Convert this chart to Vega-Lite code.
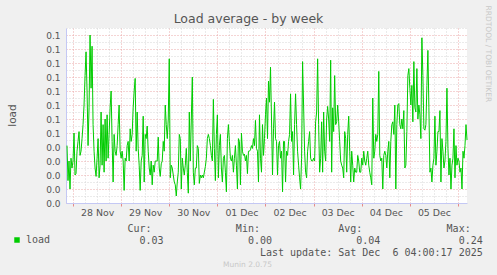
{
  "$schema": "https://vega.github.io/schema/vega-lite/v6.json",
  "width": 401,
  "height": 175,
  "autosize": "none",
  "padding": {"left": 66, "top": 28, "right": 30, "bottom": 72},
  "background": "#f0f0f0",
  "title": {
    "text": "Load average - by week",
    "font": "DejaVu Sans",
    "fontSize": 12.5,
    "fontWeight": "normal",
    "color": "#555555",
    "anchor": "middle",
    "frame": "group",
    "dx": -18,
    "dy": 34,
    "offset": 4,
    "baseline": "alphabetic"
  },
  "data": {
    "values": [
      {"t": "2025-11-27T21:00", "v": 0.041}, {"t": "2025-11-27T21:30", "v": 0.016}, {"t": "2025-11-27T22:00", "v": 0.030}, {"t": "2025-11-27T22:30", "v": 0.010}, {"t": "2025-11-27T23:00", "v": 0.032}, {"t": "2025-11-27T23:30", "v": 0.025},
      {"t": "2025-11-28T00:00", "v": 0.030}, {"t": "2025-11-28T00:30", "v": 0.050}, {"t": "2025-11-28T01:00", "v": 0.020}, {"t": "2025-11-28T01:30", "v": 0.021}, {"t": "2025-11-28T02:00", "v": 0.037}, {"t": "2025-11-28T02:30", "v": 0.044},
      {"t": "2025-11-28T03:00", "v": 0.051}, {"t": "2025-11-28T03:30", "v": 0.034}, {"t": "2025-11-28T04:00", "v": 0.037}, {"t": "2025-11-28T04:30", "v": 0.046}, {"t": "2025-11-28T05:00", "v": 0.056}, {"t": "2025-11-28T05:30", "v": 0.070},
      {"t": "2025-11-28T06:00", "v": 0.091}, {"t": "2025-11-28T06:30", "v": 0.108}, {"t": "2025-11-28T07:00", "v": 0.080}, {"t": "2025-11-28T07:30", "v": 0.041}, {"t": "2025-11-28T08:00", "v": 0.068}, {"t": "2025-11-28T08:30", "v": 0.120},
      {"t": "2025-11-28T09:00", "v": 0.082}, {"t": "2025-11-28T09:30", "v": 0.112}, {"t": "2025-11-28T10:00", "v": 0.056}, {"t": "2025-11-28T10:30", "v": 0.037}, {"t": "2025-11-28T11:00", "v": 0.025}, {"t": "2025-11-28T11:30", "v": 0.019},
      {"t": "2025-11-28T12:00", "v": 0.032}, {"t": "2025-11-28T12:30", "v": 0.046}, {"t": "2025-11-28T13:00", "v": 0.018}, {"t": "2025-11-28T13:30", "v": 0.027}, {"t": "2025-11-28T14:00", "v": 0.065}, {"t": "2025-11-28T14:30", "v": 0.027},
      {"t": "2025-11-28T15:00", "v": 0.056}, {"t": "2025-11-28T15:30", "v": 0.022}, {"t": "2025-11-28T16:00", "v": 0.060}, {"t": "2025-11-28T16:30", "v": 0.030}, {"t": "2025-11-28T17:00", "v": 0.063}, {"t": "2025-11-28T17:30", "v": 0.032},
      {"t": "2025-11-28T18:00", "v": 0.049}, {"t": "2025-11-28T18:30", "v": 0.068}, {"t": "2025-11-28T19:00", "v": 0.080}, {"t": "2025-11-28T19:30", "v": 0.044}, {"t": "2025-11-28T20:00", "v": 0.015}, {"t": "2025-11-28T20:30", "v": 0.049},
      {"t": "2025-11-28T21:00", "v": 0.037}, {"t": "2025-11-28T21:30", "v": 0.034}, {"t": "2025-11-28T22:00", "v": 0.041}, {"t": "2025-11-28T22:30", "v": 0.056}, {"t": "2025-11-28T23:00", "v": 0.070}, {"t": "2025-11-28T23:30", "v": 0.037},
      {"t": "2025-11-29T00:00", "v": 0.032}, {"t": "2025-11-29T00:30", "v": 0.037}, {"t": "2025-11-29T01:00", "v": 0.030}, {"t": "2025-11-29T01:30", "v": 0.009}, {"t": "2025-11-29T02:00", "v": 0.032}, {"t": "2025-11-29T02:30", "v": 0.030},
      {"t": "2025-11-29T03:00", "v": 0.041}, {"t": "2025-11-29T03:30", "v": 0.044}, {"t": "2025-11-29T04:00", "v": 0.030}, {"t": "2025-11-29T04:30", "v": 0.053}, {"t": "2025-11-29T05:00", "v": 0.044}, {"t": "2025-11-29T05:30", "v": 0.049},
      {"t": "2025-11-29T06:00", "v": 0.068}, {"t": "2025-11-29T06:30", "v": 0.080}, {"t": "2025-11-29T07:00", "v": 0.089}, {"t": "2025-11-29T07:30", "v": 0.037}, {"t": "2025-11-29T08:00", "v": 0.065}, {"t": "2025-11-29T08:30", "v": 0.039},
      {"t": "2025-11-29T09:00", "v": 0.027}, {"t": "2025-11-29T09:30", "v": 0.009}, {"t": "2025-11-29T10:00", "v": 0.030}, {"t": "2025-11-29T10:30", "v": 0.034}, {"t": "2025-11-29T11:00", "v": 0.062}, {"t": "2025-11-29T11:30", "v": 0.015},
      {"t": "2025-11-29T12:00", "v": 0.049}, {"t": "2025-11-29T12:30", "v": 0.046}, {"t": "2025-11-29T13:00", "v": 0.055}, {"t": "2025-11-29T13:30", "v": 0.037}, {"t": "2025-11-29T14:00", "v": 0.025}, {"t": "2025-11-29T14:30", "v": 0.020},
      {"t": "2025-11-29T15:00", "v": 0.030}, {"t": "2025-11-29T15:30", "v": 0.013}, {"t": "2025-11-29T16:00", "v": 0.027}, {"t": "2025-11-29T16:30", "v": 0.022}, {"t": "2025-11-29T17:00", "v": 0.030}, {"t": "2025-11-29T17:30", "v": 0.030},
      {"t": "2025-11-29T18:00", "v": 0.030}, {"t": "2025-11-29T18:30", "v": 0.047}, {"t": "2025-11-29T19:00", "v": 0.025}, {"t": "2025-11-29T19:30", "v": 0.019}, {"t": "2025-11-29T20:00", "v": 0.028}, {"t": "2025-11-29T20:30", "v": 0.030},
      {"t": "2025-11-29T21:00", "v": 0.044}, {"t": "2025-11-29T21:30", "v": 0.037}, {"t": "2025-11-29T22:00", "v": 0.070}, {"t": "2025-11-29T22:30", "v": 0.056}, {"t": "2025-11-29T23:00", "v": 0.046}, {"t": "2025-11-29T23:30", "v": 0.060},
      {"t": "2025-11-30T00:00", "v": 0.103}, {"t": "2025-11-30T00:30", "v": 0.018}, {"t": "2025-11-30T01:00", "v": 0.027}, {"t": "2025-11-30T01:30", "v": 0.025}, {"t": "2025-11-30T02:00", "v": 0.020}, {"t": "2025-11-30T02:30", "v": 0.015},
      {"t": "2025-11-30T03:00", "v": 0.013}, {"t": "2025-11-30T03:30", "v": 0.005}, {"t": "2025-11-30T04:00", "v": 0.015}, {"t": "2025-11-30T04:30", "v": 0.022}, {"t": "2025-11-30T05:00", "v": 0.049}, {"t": "2025-11-30T05:30", "v": 0.046},
      {"t": "2025-11-30T06:00", "v": 0.010}, {"t": "2025-11-30T06:30", "v": 0.032}, {"t": "2025-11-30T07:00", "v": 0.025}, {"t": "2025-11-30T07:30", "v": 0.020}, {"t": "2025-11-30T08:00", "v": 0.027}, {"t": "2025-11-30T08:30", "v": 0.039},
      {"t": "2025-11-30T09:00", "v": 0.022}, {"t": "2025-11-30T09:30", "v": 0.007}, {"t": "2025-11-30T10:00", "v": 0.065}, {"t": "2025-11-30T10:30", "v": 0.030}, {"t": "2025-11-30T11:00", "v": 0.060}, {"t": "2025-11-30T11:30", "v": 0.090},
      {"t": "2025-11-30T12:00", "v": 0.022}, {"t": "2025-11-30T12:30", "v": 0.013}, {"t": "2025-11-30T13:00", "v": 0.025}, {"t": "2025-11-30T13:30", "v": 0.025}, {"t": "2025-11-30T14:00", "v": 0.041}, {"t": "2025-11-30T14:30", "v": 0.039},
      {"t": "2025-11-30T15:00", "v": 0.014}, {"t": "2025-11-30T15:30", "v": 0.020}, {"t": "2025-11-30T16:00", "v": 0.018}, {"t": "2025-11-30T16:30", "v": 0.020}, {"t": "2025-11-30T17:00", "v": 0.018}, {"t": "2025-11-30T17:30", "v": 0.022},
      {"t": "2025-11-30T18:00", "v": 0.026}, {"t": "2025-11-30T18:30", "v": 0.032}, {"t": "2025-11-30T19:00", "v": 0.046}, {"t": "2025-11-30T19:30", "v": 0.049}, {"t": "2025-11-30T20:00", "v": 0.046}, {"t": "2025-11-30T20:30", "v": 0.041},
      {"t": "2025-11-30T21:00", "v": 0.034}, {"t": "2025-11-30T21:30", "v": 0.030}, {"t": "2025-11-30T22:00", "v": 0.074}, {"t": "2025-11-30T22:30", "v": 0.039}, {"t": "2025-11-30T23:00", "v": 0.016}, {"t": "2025-11-30T23:30", "v": 0.049},
      {"t": "2025-12-01T00:00", "v": 0.063}, {"t": "2025-12-01T00:30", "v": 0.018}, {"t": "2025-12-01T01:00", "v": 0.041}, {"t": "2025-12-01T01:30", "v": 0.049}, {"t": "2025-12-01T02:00", "v": 0.025}, {"t": "2025-12-01T02:30", "v": 0.015},
      {"t": "2025-12-01T03:00", "v": 0.032}, {"t": "2025-12-01T03:30", "v": 0.034}, {"t": "2025-12-01T04:00", "v": 0.022}, {"t": "2025-12-01T04:30", "v": 0.008}, {"t": "2025-12-01T05:00", "v": 0.046}, {"t": "2025-12-01T05:30", "v": 0.056},
      {"t": "2025-12-01T06:00", "v": 0.044}, {"t": "2025-12-01T06:30", "v": 0.032}, {"t": "2025-12-01T07:00", "v": 0.030}, {"t": "2025-12-01T07:30", "v": 0.034}, {"t": "2025-12-01T08:00", "v": 0.022}, {"t": "2025-12-01T08:30", "v": 0.032},
      {"t": "2025-12-01T09:00", "v": 0.041}, {"t": "2025-12-01T09:30", "v": 0.027}, {"t": "2025-12-01T10:00", "v": 0.010}, {"t": "2025-12-01T10:30", "v": 0.046}, {"t": "2025-12-01T11:00", "v": 0.044}, {"t": "2025-12-01T11:30", "v": 0.013},
      {"t": "2025-12-01T12:00", "v": 0.050}, {"t": "2025-12-01T12:30", "v": 0.037}, {"t": "2025-12-01T13:00", "v": 0.034}, {"t": "2025-12-01T13:30", "v": 0.035}, {"t": "2025-12-01T14:00", "v": 0.030}, {"t": "2025-12-01T14:30", "v": 0.034},
      {"t": "2025-12-01T15:00", "v": 0.021}, {"t": "2025-12-01T15:30", "v": 0.037}, {"t": "2025-12-01T16:00", "v": 0.037}, {"t": "2025-12-01T16:30", "v": 0.038}, {"t": "2025-12-01T17:00", "v": 0.041}, {"t": "2025-12-01T17:30", "v": 0.039},
      {"t": "2025-12-01T18:00", "v": 0.046}, {"t": "2025-12-01T18:30", "v": 0.041}, {"t": "2025-12-01T19:00", "v": 0.059}, {"t": "2025-12-01T19:30", "v": 0.039}, {"t": "2025-12-01T20:00", "v": 0.037}, {"t": "2025-12-01T20:30", "v": 0.015},
      {"t": "2025-12-01T21:00", "v": 0.063}, {"t": "2025-12-01T21:30", "v": 0.032}, {"t": "2025-12-01T22:00", "v": 0.022}, {"t": "2025-12-01T22:30", "v": 0.056}, {"t": "2025-12-01T23:00", "v": 0.034}, {"t": "2025-12-01T23:30", "v": 0.046},
      {"t": "2025-12-02T00:00", "v": 0.063}, {"t": "2025-12-02T00:30", "v": 0.075}, {"t": "2025-12-02T01:00", "v": 0.046}, {"t": "2025-12-02T01:30", "v": 0.087}, {"t": "2025-12-02T02:00", "v": 0.072}, {"t": "2025-12-02T02:30", "v": 0.097},
      {"t": "2025-12-02T03:00", "v": 0.060}, {"t": "2025-12-02T03:30", "v": 0.020}, {"t": "2025-12-02T04:00", "v": 0.053}, {"t": "2025-12-02T04:30", "v": 0.072}, {"t": "2025-12-02T05:00", "v": 0.046}, {"t": "2025-12-02T05:30", "v": 0.044},
      {"t": "2025-12-02T06:00", "v": 0.020}, {"t": "2025-12-02T06:30", "v": 0.041}, {"t": "2025-12-02T07:00", "v": 0.044}, {"t": "2025-12-02T07:30", "v": 0.032}, {"t": "2025-12-02T08:00", "v": 0.037}, {"t": "2025-12-02T08:30", "v": 0.008},
      {"t": "2025-12-02T09:00", "v": 0.044}, {"t": "2025-12-02T09:30", "v": 0.044}, {"t": "2025-12-02T10:00", "v": 0.015}, {"t": "2025-12-02T10:30", "v": 0.037}, {"t": "2025-12-02T11:00", "v": 0.034}, {"t": "2025-12-02T11:30", "v": 0.044},
      {"t": "2025-12-02T12:00", "v": 0.049}, {"t": "2025-12-02T12:30", "v": 0.078}, {"t": "2025-12-02T13:00", "v": 0.044}, {"t": "2025-12-02T13:30", "v": 0.051}, {"t": "2025-12-02T14:00", "v": 0.020}, {"t": "2025-12-02T14:30", "v": 0.056},
      {"t": "2025-12-02T15:00", "v": 0.078}, {"t": "2025-12-02T15:30", "v": 0.056}, {"t": "2025-12-02T16:00", "v": 0.037}, {"t": "2025-12-02T16:30", "v": 0.027}, {"t": "2025-12-02T17:00", "v": 0.018}, {"t": "2025-12-02T17:30", "v": 0.010},
      {"t": "2025-12-02T18:00", "v": 0.032}, {"t": "2025-12-02T18:30", "v": 0.101}, {"t": "2025-12-02T19:00", "v": 0.070}, {"t": "2025-12-02T19:30", "v": 0.037}, {"t": "2025-12-02T20:00", "v": 0.022}, {"t": "2025-12-02T20:30", "v": 0.018},
      {"t": "2025-12-02T21:00", "v": 0.037}, {"t": "2025-12-02T21:30", "v": 0.044}, {"t": "2025-12-02T22:00", "v": 0.051}, {"t": "2025-12-02T22:30", "v": 0.032}, {"t": "2025-12-02T23:00", "v": 0.030}, {"t": "2025-12-02T23:30", "v": 0.030},
      {"t": "2025-12-03T00:00", "v": 0.032}, {"t": "2025-12-03T00:30", "v": 0.030}, {"t": "2025-12-03T01:00", "v": 0.058}, {"t": "2025-12-03T01:30", "v": 0.065}, {"t": "2025-12-03T02:00", "v": 0.103}, {"t": "2025-12-03T02:30", "v": 0.056},
      {"t": "2025-12-03T03:00", "v": 0.022}, {"t": "2025-12-03T03:30", "v": 0.032}, {"t": "2025-12-03T04:00", "v": 0.058}, {"t": "2025-12-03T04:30", "v": 0.022}, {"t": "2025-12-03T05:00", "v": 0.065}, {"t": "2025-12-03T05:30", "v": 0.037},
      {"t": "2025-12-03T06:00", "v": 0.030}, {"t": "2025-12-03T06:30", "v": 0.060}, {"t": "2025-12-03T07:00", "v": 0.069}, {"t": "2025-12-03T07:30", "v": 0.060}, {"t": "2025-12-03T08:00", "v": 0.044}, {"t": "2025-12-03T08:30", "v": 0.102},
      {"t": "2025-12-03T09:00", "v": 0.022}, {"t": "2025-12-03T09:30", "v": 0.068}, {"t": "2025-12-03T10:00", "v": 0.051}, {"t": "2025-12-03T10:30", "v": 0.091}, {"t": "2025-12-03T11:00", "v": 0.056}, {"t": "2025-12-03T11:30", "v": 0.058},
      {"t": "2025-12-03T12:00", "v": 0.070}, {"t": "2025-12-03T12:30", "v": 0.058}, {"t": "2025-12-03T13:00", "v": 0.044}, {"t": "2025-12-03T13:30", "v": 0.030}, {"t": "2025-12-03T14:00", "v": 0.027}, {"t": "2025-12-03T14:30", "v": 0.025},
      {"t": "2025-12-03T15:00", "v": 0.018}, {"t": "2025-12-03T15:30", "v": 0.051}, {"t": "2025-12-03T16:00", "v": 0.046}, {"t": "2025-12-03T16:30", "v": 0.022}, {"t": "2025-12-03T17:00", "v": 0.049}, {"t": "2025-12-03T17:30", "v": 0.062},
      {"t": "2025-12-03T18:00", "v": 0.037}, {"t": "2025-12-03T18:30", "v": 0.015}, {"t": "2025-12-03T19:00", "v": 0.037}, {"t": "2025-12-03T19:30", "v": 0.027}, {"t": "2025-12-03T20:00", "v": 0.015}, {"t": "2025-12-03T20:30", "v": 0.025},
      {"t": "2025-12-03T21:00", "v": 0.022}, {"t": "2025-12-03T21:30", "v": 0.022}, {"t": "2025-12-03T22:00", "v": 0.034}, {"t": "2025-12-03T22:30", "v": 0.030}, {"t": "2025-12-03T23:00", "v": 0.022}, {"t": "2025-12-03T23:30", "v": 0.022},
      {"t": "2025-12-04T00:00", "v": 0.032}, {"t": "2025-12-04T00:30", "v": 0.027}, {"t": "2025-12-04T01:00", "v": 0.037}, {"t": "2025-12-04T01:30", "v": 0.030}, {"t": "2025-12-04T02:00", "v": 0.027}, {"t": "2025-12-04T02:30", "v": 0.032},
      {"t": "2025-12-04T03:00", "v": 0.037}, {"t": "2025-12-04T03:30", "v": 0.027}, {"t": "2025-12-04T04:00", "v": 0.022}, {"t": "2025-12-04T04:30", "v": 0.018}, {"t": "2025-12-04T05:00", "v": 0.013}, {"t": "2025-12-04T05:30", "v": 0.075},
      {"t": "2025-12-04T06:00", "v": 0.032}, {"t": "2025-12-04T06:30", "v": 0.037}, {"t": "2025-12-04T07:00", "v": 0.049}, {"t": "2025-12-04T07:30", "v": 0.044}, {"t": "2025-12-04T08:00", "v": 0.049}, {"t": "2025-12-04T08:30", "v": 0.094},
      {"t": "2025-12-04T09:00", "v": 0.034}, {"t": "2025-12-04T09:30", "v": 0.030}, {"t": "2025-12-04T10:00", "v": 0.032}, {"t": "2025-12-04T10:30", "v": 0.010}, {"t": "2025-12-04T11:00", "v": 0.034}, {"t": "2025-12-04T11:30", "v": 0.037},
      {"t": "2025-12-04T12:00", "v": 0.034}, {"t": "2025-12-04T12:30", "v": 0.025}, {"t": "2025-12-04T13:00", "v": 0.037}, {"t": "2025-12-04T13:30", "v": 0.044}, {"t": "2025-12-04T14:00", "v": 0.018}, {"t": "2025-12-04T14:30", "v": 0.044},
      {"t": "2025-12-04T15:00", "v": 0.056}, {"t": "2025-12-04T15:30", "v": 0.058}, {"t": "2025-12-04T16:00", "v": 0.049}, {"t": "2025-12-04T16:30", "v": 0.070}, {"t": "2025-12-04T17:00", "v": 0.010}, {"t": "2025-12-04T17:30", "v": 0.056},
      {"t": "2025-12-04T18:00", "v": 0.070}, {"t": "2025-12-04T18:30", "v": 0.071}, {"t": "2025-12-04T19:00", "v": 0.056}, {"t": "2025-12-04T19:30", "v": 0.053}, {"t": "2025-12-04T20:00", "v": 0.060}, {"t": "2025-12-04T20:30", "v": 0.053},
      {"t": "2025-12-04T21:00", "v": 0.066}, {"t": "2025-12-04T21:30", "v": 0.025}, {"t": "2025-12-04T22:00", "v": 0.027}, {"t": "2025-12-04T22:30", "v": 0.051}, {"t": "2025-12-04T23:00", "v": 0.091}, {"t": "2025-12-04T23:30", "v": 0.096},
      {"t": "2025-12-05T00:00", "v": 0.082}, {"t": "2025-12-05T00:30", "v": 0.070}, {"t": "2025-12-05T01:00", "v": 0.084}, {"t": "2025-12-05T01:30", "v": 0.058}, {"t": "2025-12-05T02:00", "v": 0.101}, {"t": "2025-12-05T02:30", "v": 0.068},
      {"t": "2025-12-05T03:00", "v": 0.065}, {"t": "2025-12-05T03:30", "v": 0.096}, {"t": "2025-12-05T04:00", "v": 0.060}, {"t": "2025-12-05T04:30", "v": 0.070}, {"t": "2025-12-05T05:00", "v": 0.063}, {"t": "2025-12-05T05:30", "v": 0.046},
      {"t": "2025-12-05T06:00", "v": 0.118}, {"t": "2025-12-05T06:30", "v": 0.091}, {"t": "2025-12-05T07:00", "v": 0.053}, {"t": "2025-12-05T07:30", "v": 0.052}, {"t": "2025-12-05T08:00", "v": 0.056}, {"t": "2025-12-05T08:30", "v": 0.084},
      {"t": "2025-12-05T09:00", "v": 0.109}, {"t": "2025-12-05T09:30", "v": 0.068}, {"t": "2025-12-05T10:00", "v": 0.022}, {"t": "2025-12-05T10:30", "v": 0.025}, {"t": "2025-12-05T11:00", "v": 0.015}, {"t": "2025-12-05T11:30", "v": 0.027},
      {"t": "2025-12-05T12:00", "v": 0.032}, {"t": "2025-12-05T12:30", "v": 0.062}, {"t": "2025-12-05T13:00", "v": 0.027}, {"t": "2025-12-05T13:30", "v": 0.037}, {"t": "2025-12-05T14:00", "v": 0.051}, {"t": "2025-12-05T14:30", "v": 0.051},
      {"t": "2025-12-05T15:00", "v": 0.066}, {"t": "2025-12-05T15:30", "v": 0.015}, {"t": "2025-12-05T16:00", "v": 0.046}, {"t": "2025-12-05T16:30", "v": 0.037}, {"t": "2025-12-05T17:00", "v": 0.025}, {"t": "2025-12-05T17:30", "v": 0.030},
      {"t": "2025-12-05T18:00", "v": 0.044}, {"t": "2025-12-05T18:30", "v": 0.082}, {"t": "2025-12-05T19:00", "v": 0.039}, {"t": "2025-12-05T19:30", "v": 0.020}, {"t": "2025-12-05T20:00", "v": 0.032}, {"t": "2025-12-05T20:30", "v": 0.010},
      {"t": "2025-12-05T21:00", "v": 0.027}, {"t": "2025-12-05T21:30", "v": 0.032}, {"t": "2025-12-05T22:00", "v": 0.053}, {"t": "2025-12-05T22:30", "v": 0.018}, {"t": "2025-12-05T23:00", "v": 0.041}, {"t": "2025-12-05T23:30", "v": 0.027},
      {"t": "2025-12-06T00:00", "v": 0.032}, {"t": "2025-12-06T00:30", "v": 0.030}, {"t": "2025-12-06T01:00", "v": 0.022}, {"t": "2025-12-06T01:30", "v": 0.025}, {"t": "2025-12-06T02:00", "v": 0.010}, {"t": "2025-12-06T02:30", "v": 0.037},
      {"t": "2025-12-06T03:00", "v": 0.032}, {"t": "2025-12-06T03:30", "v": 0.041}, {"t": "2025-12-06T04:00", "v": 0.056}, {"t": "2025-12-06T04:30", "v": 0.045}
    ]
  },
  "layer": [
    {
      "mark": {"type": "line", "opacity": 0, "strokeWidth": 0},
      "encoding": {
        "x": {
          "field": "t",
          "type": "temporal",
          "axis": {
            "orient": "bottom",
            "values": [
              {"year": 2025, "month": 11, "date": 28, "hours": 0}, {"year": 2025, "month": 11, "date": 29, "hours": 0}, {"year": 2025, "month": 11, "date": 30, "hours": 0},
              {"year": 2025, "month": 12, "date": 1, "hours": 0}, {"year": 2025, "month": 12, "date": 2, "hours": 0}, {"year": 2025, "month": 12, "date": 3, "hours": 0},
              {"year": 2025, "month": 12, "date": 4, "hours": 0}, {"year": 2025, "month": 12, "date": 5, "hours": 0}, {"year": 2025, "month": 12, "date": 6, "hours": 0}
            ],
            "domain": false,
            "labels": false,
            "ticks": true,
            "tickSize": 3,
            "tickColor": "#e58a8a",
            "grid": true,
            "gridColor": "#eaa8a8",
            "gridDash": [1, 2],
            "title": null
          }
        },
        "y": {
          "field": "v",
          "type": "quantitative",
          "axis": {
            "orient": "left",
            "values": [0.005, 0.015, 0.025, 0.035, 0.045, 0.055, 0.065, 0.075, 0.085, 0.095, 0.105, 0.115, 0.125],
            "domain": false,
            "labels": false,
            "ticks": false,
            "grid": true,
            "gridColor": "#d6d6d6",
            "gridDash": [1, 2],
            "title": null
          }
        }
      }
    },
    {
      "mark": {"type": "line", "opacity": 0, "strokeWidth": 0},
      "encoding": {
        "x": {
          "field": "t",
          "type": "temporal",
          "axis": {
            "orient": "top",
            "values": [
              {"year": 2025, "month": 11, "date": 28, "hours": 6}, {"year": 2025, "month": 11, "date": 28, "hours": 12}, {"year": 2025, "month": 11, "date": 28, "hours": 18},
              {"year": 2025, "month": 11, "date": 29, "hours": 6}, {"year": 2025, "month": 11, "date": 29, "hours": 12}, {"year": 2025, "month": 11, "date": 29, "hours": 18},
              {"year": 2025, "month": 11, "date": 30, "hours": 6}, {"year": 2025, "month": 11, "date": 30, "hours": 12}, {"year": 2025, "month": 11, "date": 30, "hours": 18},
              {"year": 2025, "month": 12, "date": 1, "hours": 6}, {"year": 2025, "month": 12, "date": 1, "hours": 12}, {"year": 2025, "month": 12, "date": 1, "hours": 18},
              {"year": 2025, "month": 12, "date": 2, "hours": 6}, {"year": 2025, "month": 12, "date": 2, "hours": 12}, {"year": 2025, "month": 12, "date": 2, "hours": 18},
              {"year": 2025, "month": 12, "date": 3, "hours": 6}, {"year": 2025, "month": 12, "date": 3, "hours": 12}, {"year": 2025, "month": 12, "date": 3, "hours": 18},
              {"year": 2025, "month": 12, "date": 4, "hours": 6}, {"year": 2025, "month": 12, "date": 4, "hours": 12}, {"year": 2025, "month": 12, "date": 4, "hours": 18},
              {"year": 2025, "month": 12, "date": 5, "hours": 6}, {"year": 2025, "month": 12, "date": 5, "hours": 12}, {"year": 2025, "month": 12, "date": 5, "hours": 18}
            ],
            "domain": false,
            "ticks": false,
            "labels": false,
            "grid": true,
            "gridColor": "#d6d6d6",
            "gridDash": [1, 2],
            "title": "Munin 2.0.75",
            "titleFont": "DejaVu Sans",
            "titleFontSize": 7.5,
            "titleFontWeight": "normal",
            "titleColor": "#c8c8c8",
            "titleAlign": "center",
            "titleAnchor": "start",
            "titleBaseline": "alphabetic",
            "titleX": 181,
            "titleY": 238
          }
        },
        "y": {
          "field": "v",
          "type": "quantitative",
          "axis": {
            "orient": "right",
            "domain": false,
            "ticks": false,
            "labels": false,
            "grid": false,
            "title": "RRDTOOL / TOBI OETIKER",
            "titleFont": "DejaVu Sans",
            "titleFontSize": 7.5,
            "titleFontWeight": "normal",
            "titleColor": "#c8c8c8",
            "titleAngle": 90,
            "titleAlign": "left",
            "titleAnchor": "start",
            "titleBaseline": "alphabetic",
            "titleX": 18,
            "titleY": -23
          }
        }
      }
    },
    {
      "mark": {"type": "line", "strokeWidth": 1, "interpolate": "linear"},
      "encoding": {
        "x": {
          "field": "t",
          "type": "temporal",
          "scale": {"domain": [
            {"year": 2025, "month": 11, "date": 27, "hours": 20, "minutes": 30},
            {"year": 2025, "month": 12, "date": 6, "hours": 4, "minutes": 30}
          ]},
          "axis": {
            "orient": "bottom",
            "values": [
              {"year": 2025, "month": 11, "date": 28, "hours": 12}, {"year": 2025, "month": 11, "date": 29, "hours": 12}, {"year": 2025, "month": 11, "date": 30, "hours": 12},
              {"year": 2025, "month": 12, "date": 1, "hours": 12}, {"year": 2025, "month": 12, "date": 2, "hours": 12}, {"year": 2025, "month": 12, "date": 3, "hours": 12},
              {"year": 2025, "month": 12, "date": 4, "hours": 12}, {"year": 2025, "month": 12, "date": 5, "hours": 12}
            ],
            "grid": false,
            "ticks": false,
            "domainColor": "#c4c8f4",
            "format": "%d %b",
            "labelFont": "DejaVu Sans",
            "labelFontSize": 9.4,
            "labelColor": "#555555",
            "labelPadding": 5,
            "title": [
              "Cur:\u00a0\u00a0\u00a0\u00a0\u00a0\u00a0\u00a0\u00a0\u00a0\u00a0\u00a0\u00a0\u00a0\u00a0Min:\u00a0\u00a0\u00a0\u00a0\u00a0\u00a0\u00a0\u00a0\u00a0\u00a0\u00a0\u00a0\u00a0Avg:\u00a0\u00a0\u00a0\u00a0\u00a0\u00a0\u00a0\u00a0\u00a0\u00a0\u00a0\u00a0\u00a0\u00a0Max:",
              "\u200b\u00a0\u00a00.03\u00a0\u00a0\u00a0\u00a0\u00a0\u00a0\u00a0\u00a0\u00a0\u00a0\u00a0\u00a0\u00a0\u00a00.00\u00a0\u00a0\u00a0\u00a0\u00a0\u00a0\u00a0\u00a0\u00a0\u00a0\u00a0\u00a0\u00a0\u00a00.04\u00a0\u00a0\u00a0\u00a0\u00a0\u00a0\u00a0\u00a0\u00a0\u00a0\u00a0\u00a0\u00a00.24",
              "\u200b\u00a0\u00a0\u00a0\u00a0\u00a0\u00a0\u00a0\u00a0\u00a0\u00a0\u00a0\u00a0\u00a0\u00a0\u00a0\u00a0\u00a0\u00a0\u00a0\u00a0\u00a0\u00a0Last\u00a0update:\u00a0Sat\u00a0Dec\u00a0\u00a06\u00a004:00:17\u00a02025"
            ],
            "titleFont": "DejaVu Sans Mono",
            "titleFontSize": 10,
            "titleFontWeight": "normal",
            "titleColor": "#555555",
            "titleAlign": "left",
            "titleAnchor": "start",
            "titleBaseline": "alphabetic",
            "titleX": 61,
            "titleY": 28,
            "titleLineHeight": 12
          }
        },
        "y": {
          "field": "v",
          "type": "quantitative",
          "scale": {"domain": [0, 0.125], "nice": false, "zero": true},
          "axis": {
            "orient": "left",
            "values": [0, 0.01, 0.02, 0.03, 0.04, 0.05, 0.06, 0.07, 0.08, 0.09, 0.1, 0.11, 0.12],
            "format": ".1f",
            "grid": true,
            "gridColor": "#eaa8a8",
            "gridDash": [1, 2],
            "ticks": false,
            "domainColor": "#c4c8f4",
            "labelFont": "DejaVu Sans",
            "labelFontSize": 9,
            "labelColor": "#555555",
            "labelPadding": 6,
            "title": "load",
            "titleFont": "DejaVu Sans",
            "titleFontSize": 10.5,
            "titleFontWeight": "normal",
            "titleColor": "#555555",
            "titleAngle": -90,
            "titleAlign": "center",
            "titleBaseline": "alphabetic",
            "titleX": -51,
            "titleY": 87
          }
        },
        "color": {
          "datum": "load",
          "scale": {"range": ["#00cc00"]},
          "legend": {
            "orient": "none",
            "legendX": -54,
            "legendY": 207,
            "title": null,
            "padding": 0,
            "symbolType": "square",
            "symbolSize": 30,
            "symbolStrokeWidth": 0,
            "symbolFillColor": "#00cc00",
            "labelFont": "DejaVu Sans Mono",
            "labelFontSize": 10,
            "labelColor": "#555555",
            "labelOffset": 4,
            "encode": {"symbols": {"update": {"fill": {"value": "#00cc00"}, "stroke": {"value": "#00cc00"}, "strokeWidth": {"value": 0}, "opacity": {"value": 1}}}}
          }
        }
      }
    }
  ],
  "resolve": {"axis": {"x": "independent", "y": "independent"}},
  "config": {
    "view": {"fill": "white", "stroke": null}
  }
}
